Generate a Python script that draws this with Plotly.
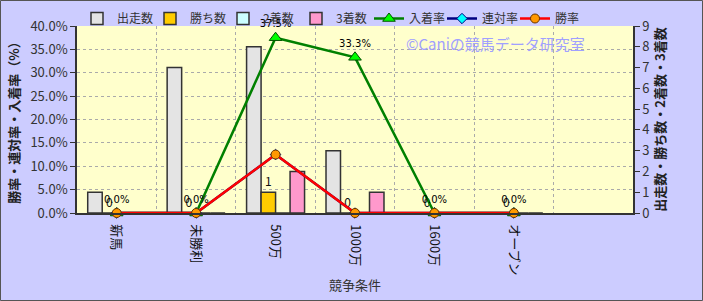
import plotly.graph_objects as go

categories = ["新馬", "未勝利", "500万", "1000万", "1600万", "オープン"]
starts = [1, 7, 8, 3, 0, 0]        # 出走数
wins = [0, 0, 1, 0, 0, 0]          # 勝ち数
seconds = [0, 0, 0, 0, 0, 0]       # 2着数
thirds = [0, 0, 2, 1, 0, 0]        # 3着数
place_rate = [0.0, 0.0, 0.375, 0.333, 0.0, 0.0]   # 入着率
rentai_rate = [0.0, 0.0, 0.125, 0.0, 0.0, 0.0]    # 連対率
win_rate = [0.0, 0.0, 0.125, 0.0, 0.0, 0.0]       # 勝率

FONT = "Noto Sans CJK JP, sans-serif"
W, H = 703, 301
L, R, T, B = 77, 70, 26, 88
pw, ph = W - L - R, H - T - B

fig = go.Figure()
bar_line = dict(color="#333333", width=1.5)
fig.add_trace(go.Bar(name="出走数", x=categories, y=starts, marker=dict(color="#E4E4E4", line=bar_line)))
fig.add_trace(go.Bar(name="勝ち数", x=categories, y=wins, marker=dict(color="#FFCC00", line=bar_line),
                     text=[str(v) for v in wins], textposition="outside",
                     textfont=dict(size=12, color="#111111", family=FONT), cliponaxis=False))
fig.add_trace(go.Bar(name="2着数", x=categories, y=seconds, marker=dict(color="#CCFFFF", line=bar_line)))
fig.add_trace(go.Bar(name="3着数", x=categories, y=thirds, marker=dict(color="#FF99CC", line=bar_line)))

fig.add_trace(go.Scatter(name="入着率", x=categories, y=place_rate, yaxis="y2",
                         mode="lines+markers+text",
                         text=[f"{v*100:.1f}%" for v in place_rate], textposition="top center",
                         textfont=dict(size=10, color="#000000", family="DejaVu Sans"),
                         line=dict(color="#008000", width=2.5),
                         marker=dict(symbol="triangle-up", size=11, color="#00FF00",
                                     line=dict(color="#005000", width=1)),
                         cliponaxis=False))
fig.add_trace(go.Scatter(name="連対率", x=categories, y=rentai_rate, yaxis="y2",
                         mode="lines+markers",
                         line=dict(color="#000080", width=2.5),
                         marker=dict(symbol="diamond", size=8, color="#00FFFF",
                                     line=dict(color="#000080", width=1)),
                         cliponaxis=False))
fig.add_trace(go.Scatter(name="勝率", x=categories, y=win_rate, yaxis="y2",
                         mode="lines+markers",
                         line=dict(color="#FF0000", width=2.5),
                         marker=dict(symbol="circle", size=9, color="#FF9900",
                                     line=dict(color="#663300", width=1)),
                         cliponaxis=False))

fig.update_layout(
    width=W, height=H,
    margin=dict(l=L, r=R, t=T, b=B, autoexpand=False),
    paper_bgcolor="#CCCCFF", plot_bgcolor="#FFFFCC",
    font=dict(family=FONT, size=12, color="#333333"),
    barmode="group", bargap=0.27, bargroupgap=0,
    showlegend=True,
    legend=dict(orientation="h", x=0.0, xanchor="left", y=1 + (T - 4) / ph, yanchor="top",
                bgcolor="rgba(0,0,0,0)", font=dict(size=12, color="#333333"),
                itemwidth=30, entrywidth=28, entrywidthmode="pixels",
                tracegroupgap=0, traceorder="normal"),
    xaxis=dict(type="category", categoryorder="array", categoryarray=categories,
               range=[-0.5, 6.5], tickangle=90, tickson="boundaries", ticks="",
               ticklabelstandoff=7,
               showgrid=True, gridcolor="#AAAAAA", griddash="dot", gridwidth=1,
               showline=True, linecolor="#333333", linewidth=1.5,
               tickfont=dict(size=13, color="#111111"),
               title=dict(text="競争条件", font=dict(size=13, color="#333333"), standoff=6)),
    yaxis=dict(side="right", range=[0, 9], dtick=1, showgrid=False, zeroline=False,
               showline=True, linecolor="#333333", linewidth=1.5,
               ticks="outside", ticklen=5, tickcolor="#333333",
               tickfont=dict(size=13, color="#333333"),
               title=dict(text="<b>出走数・勝ち数・2着数・3着数</b>", font=dict(size=13, color="#222222"), standoff=6)),
    yaxis2=dict(side="left", overlaying="y", range=[0, 0.4], dtick=0.05, tickformat=".1%",
                showgrid=True, gridcolor="#AAAAAA", griddash="dot", gridwidth=1, zeroline=False,
                showline=True, linecolor="#333333", linewidth=1.5,
                ticks="outside", ticklen=5, tickcolor="#333333",
                tickfont=dict(size=13, color="#333333"),
                title=dict(text="<b>勝率・連対率・入着率（%）</b>", font=dict(size=13, color="#222222"), standoff=8)),
    annotations=[dict(text="©Caniの競馬データ研究室", xref="paper", yref="paper",
                      x=(495 - L) / pw, y=1 - (43 - T) / ph, xanchor="center", yanchor="middle",
                      showarrow=False,
                      font=dict(size=15, color="#A0A0FF", family=FONT))],
    shapes=[dict(type="rect", xref="paper", yref="paper",
                 x0=-(L - 0.5) / pw, x1=1 + (R - 0.5) / pw, y0=-(B - 0.5) / ph, y1=1 + (T - 0.5) / ph,
                 line=dict(color="#555555", width=1), layer="below")],
)

fig.write_html("out.html")
